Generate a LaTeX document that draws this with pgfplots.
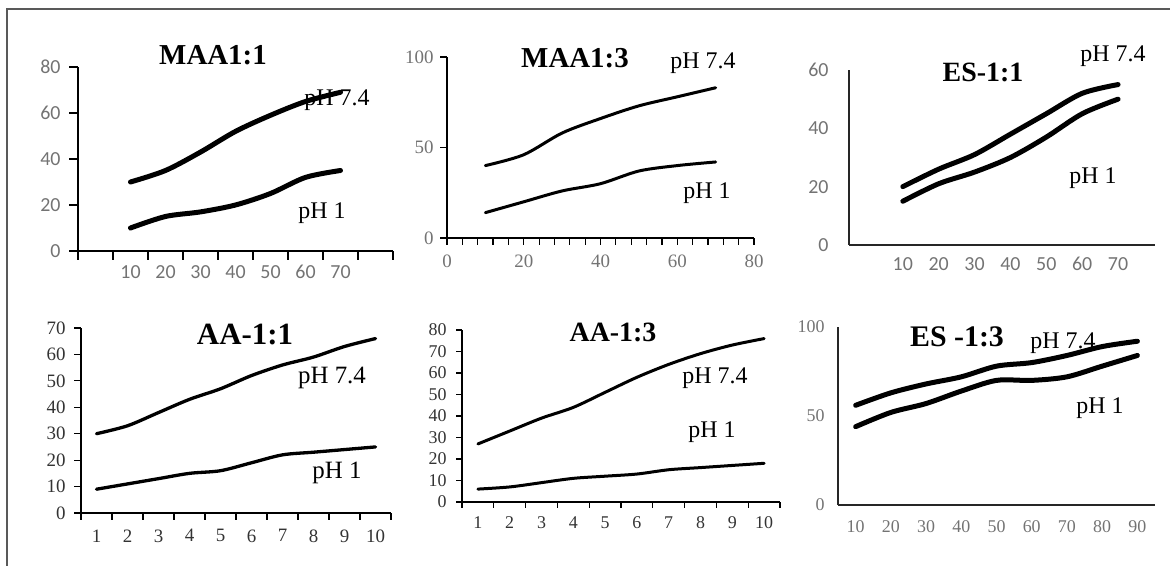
\documentclass[border=0pt]{standalone}
\usepackage{fontspec}
\setmainfont{Liberation Serif}
\newfontfamily\carlito{Carlito}
\usepackage{pgfplots}
\pgfplotsset{compat=1.18}

\pgfplotsset{
  panel/.style={
    scale only axis, anchor=south west, clip=false,
    axis lines=left, axis line style={-, line width=1.4bp, black},
    tick align=outside, tick style={black, line width=1.2bp},
    /pgf/number format/assume math mode=true,
  },
  curve/.style={black, smooth, no markers, line cap=round},
}
\newcommand{\ttl}[1]{\fontsize{#1}{#1}\selectfont\bfseries}
\newcommand{\phl}{\fontsize{24}{24}\selectfont}

\begin{document}
\begin{tikzpicture}[x=1bp,y=1bp]
\path[use as bounding box] (0,0) rectangle (1170,566);
\draw[line width=1.5bp, black!65] (7,0) -- (7,557) -- (1170,557);

% MAA1:1
\begin{axis}[panel, at={(78bp,315bp)}, width=315bp, height=184bp,
  xmin=-0.5, xmax=8.5, ymin=0, ymax=80,
  xtick={1,...,7}, xticklabels={10,20,30,40,50,60,70},
  minor xtick={-0.5,0.5,...,8.5}, major x tick style={draw=none},
  ytick={0,20,...,80},
  major tick length=9bp, minor tick length=9bp,
  tick label style={font=\carlito\fontsize{20}{20}\selectfont, text=black!55},
  xticklabel shift=2bp, yticklabel shift=5bp]
\addplot[curve, line width=5bp] coordinates {(1,30)(2,35)(3,43)(4,52)(5,59)(6,65)(7,69)};
\addplot[curve, line width=5bp] coordinates {(1,10)(2,15)(3,17)(4,20)(5,25)(6,32)(7,35)};
\end{axis}

% MAA1:3
\begin{axis}[panel, at={(447bp,328bp)}, width=307bp, height=181bp,
  xmin=0, xmax=80, ymin=0, ymax=100,
  xtick={0,20,...,80}, minor xtick={0,4,...,80},
  ytick={0,50,100},
  major tick length=7bp, minor tick length=7bp,
  tick label style={font=\fontsize{19}{19}\selectfont, text=black!55},
  xticklabel shift=6bp, yticklabel shift=3bp]
\addplot[curve, line width=3bp] coordinates {(10,40)(20,46)(30,58)(40,66)(50,73)(60,78)(70,83)};
\addplot[curve, line width=3bp] coordinates {(10,14)(20,20)(30,26)(40,30)(50,37)(60,40)(70,42)};
\end{axis}

% ES-1:1
\begin{axis}[panel, at={(849bp,321bp)}, width=306bp, height=175bp,
  axis line style={-, line width=1.2bp, black!85},
  xmin=-0.5, xmax=8.03, ymin=0, ymax=60,
  xtick={1,...,7}, xticklabels={10,20,30,40,50,60,70},
  ytick={0,20,...,60}, tick style={draw=none},
  major tick length=9bp,
  tick label style={font=\carlito\fontsize{20}{20}\selectfont, text=black!55},
  yticklabel shift=8bp]
\addplot[curve, line width=5bp] coordinates {(1,20)(2,26)(3,31)(4,38)(5,45)(6,52)(7,55)};
\addplot[curve, line width=5bp] coordinates {(1,15)(2,21)(3,25)(4,30)(5,37)(6,45)(7,50)};
\end{axis}

% AA-1:1
\begin{axis}[panel, at={(81bp,53bp)}, width=310bp, height=185bp,
  xmin=0.5, xmax=10.5, ymin=0, ymax=70,
  xtick={1,...,10}, minor xtick={0.5,1.5,...,10.5}, major x tick style={draw=none},
  ytick={0,10,...,70},
  major tick length=7bp, minor tick length=7bp,
  tick label style={font=\fontsize{19}{19}\selectfont, text=black!80},
  xticklabel shift=6bp, yticklabel shift=5bp]
\addplot[curve, line width=3.3bp] coordinates {(1,30)(2,33)(3,38)(4,43)(5,47)(6,52)(7,56)(8,59)(9,63)(10,66)};
\addplot[curve, line width=3.3bp] coordinates {(1,9)(2,11)(3,13)(4,15)(5,16)(6,19)(7,22)(8,23)(9,24)(10,25)};
\end{axis}

% AA-1:3
\begin{axis}[panel, at={(462bp,64bp)}, width=318bp, height=172bp,
  xmin=0.5, xmax=10.5, ymin=0, ymax=80,
  xtick={1,...,10}, minor xtick={0.5,1.5,...,10.5}, major x tick style={draw=none},
  ytick={0,10,...,80},
  major tick length=6bp, minor tick length=6bp,
  tick label style={font=\fontsize{18}{18}\selectfont, text=black!80},
  xticklabel shift=5bp, yticklabel shift=6bp]
\addplot[curve, line width=3bp] coordinates {(1,27)(2,33)(3,39)(4,44)(5,51)(6,58)(7,64)(8,69)(9,73)(10,76)};
\addplot[curve, line width=3bp] coordinates {(1,6)(2,7)(3,9)(4,11)(5,12)(6,13)(7,15)(8,16)(9,17)(10,18)};
\end{axis}

% ES -1:3
\begin{axis}[panel, at={(838bp,61bp)}, width=317bp, height=178bp,
  axis line style={-, line width=1.2bp, black!85},
  xmin=-0.5, xmax=8.5, ymin=0, ymax=100,
  xtick={0,...,8}, xticklabels={10,20,30,40,50,60,70,80,90},
  ytick={0,50,100}, tick style={draw=none},
  major tick length=10bp,
  tick label style={font=\fontsize{18}{18}\selectfont, text=black!55},
  xticklabel shift=2bp]
\addplot[curve, line width=5bp] coordinates {(0,56)(1,63)(2,68)(3,72)(4,78)(5,80)(6,84)(7,89)(8,92)};
\addplot[curve, line width=5bp] coordinates {(0,44)(1,52)(2,57)(3,64)(4,70)(5,70)(6,72)(7,78)(8,84)};
\end{axis}

% titles
\node at (213,511) {\ttl{29}MAA1:1};
\node at (575,508) {\ttl{29}MAA1:3};
\node at (983,494) {\ttl{28}ES-1:1};
\node at (245,231) {\ttl{31}AA-1:1};
\node at (613,234) {\ttl{28}AA-1:3};
\node at (957,229) {\ttl{30}ES -1:3};

% series labels
\node at (337,466) {\phl pH 7.4};
\node at (322,353) {\phl pH 1};
\node at (703,503) {\phl pH 7.4};
\node at (707,373) {\phl pH 1};
\node at (1113,510) {\phl pH 7.4};
\node at (1093,388) {\phl pH 1};
\node at (332,188) {\fontsize{25}{25}\selectfont pH 7.4};
\node at (337,93) {\fontsize{25}{25}\selectfont pH 1};
\node at (715,188) {\phl pH 7.4};
\node at (712,134) {\phl pH 1};
\node at (1063,223) {\phl pH 7.4};
\node at (1100,158) {\phl pH 1};
\end{tikzpicture}
\end{document}
